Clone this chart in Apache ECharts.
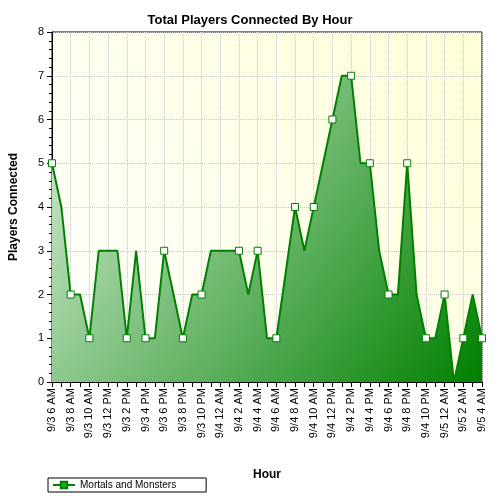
<!DOCTYPE html>
<html><head><meta charset="utf-8">
<script src="https://cdn.jsdelivr.net/npm/echarts@6/dist/echarts.min.js"></script>
<style>html,body{margin:0;padding:0;background:#fff}#c{width:500px;height:500px}</style>
</head><body><div id="c"></div>
<script>
const days = ['9/3','9/4','9/5'];
const hourLabels = ['6 AM','7 AM','8 AM','9 AM','10 AM','11 AM','12 PM','1 PM','2 PM','3 PM','4 PM','5 PM','6 PM','7 PM','8 PM','9 PM','10 PM','11 PM',
 '12 AM','1 AM','2 AM','3 AM','4 AM','5 AM','6 AM','7 AM','8 AM','9 AM','10 AM','11 AM','12 PM','1 PM','2 PM','3 PM','4 PM','5 PM','6 PM','7 PM','8 PM','9 PM','10 PM','11 PM',
 '12 AM','1 AM','2 AM','3 AM','4 AM'];
const dayOfIndex = i => i < 18 ? days[0] : (i < 42 ? days[1] : days[2]);
const categories = hourLabels.map((h,i)=>dayOfIndex(i)+' '+h);
const players = [5,4,2,2,1,3,null,3,1,3,1,1,3,2,1,2,2,3,null,null,3,2,3,1,1,null,4,3,4,null,6,7,7,5,5,3,2,2,5,2,1,1,2,0,1,2,1];
const seriesName = 'Mortals and Monsters';
const chart = echarts.init(document.getElementById('c'));
const font = 'Liberation Sans';
chart.setOption({
  backgroundColor:'#fff',
  title:{text:'Total Players Connected By Hour',left:'center',top:9,textStyle:{fontFamily:font,fontSize:13,fontWeight:'bold',color:'#000'}},
  grid:{left:52,right:18,top:32,bottom:118,show:true,borderColor:'#000',borderWidth:1,
    backgroundColor:new echarts.graphic.LinearGradient(0,1,1,0,[{offset:0,color:'#ffffff'},{offset:1,color:'#ffffd8'}])},
  legend:{left:48,bottom:8,itemWidth:22,itemHeight:8,borderColor:'#000',borderWidth:1,padding:[2,30,2,4],
    textStyle:{fontFamily:font,fontSize:10,color:'#000'},itemStyle:{color:'#22aa22'}},
  xAxis:{type:'category',data:categories,boundaryGap:false,name:'Hour',nameLocation:'middle',nameGap:87,
    nameTextStyle:{fontFamily:font,fontSize:12,fontWeight:'bold',color:'#000'},
    axisLine:{lineStyle:{color:'#000'}},
    axisTick:{interval:0,length:5,lineStyle:{color:'#000'}},
    axisLabel:{interval:1,rotate:90,fontFamily:font,fontSize:11,color:'#000',margin:6},
    splitLine:{show:true,interval:1,lineStyle:{type:'dotted',color:'#c8c8c8'}}},
  yAxis:{type:'value',min:0,max:8,interval:1,name:'Players Connected',nameLocation:'middle',nameGap:32,
    nameTextStyle:{fontFamily:font,fontSize:12,fontWeight:'bold',color:'#000'},
    axisLine:{show:true,lineStyle:{color:'#000'}},
    axisTick:{show:true,length:5,lineStyle:{color:'#000'}},
    minorTick:{show:true,splitNumber:5,length:3,lineStyle:{color:'#000'}},
    axisLabel:{fontFamily:font,fontSize:11,color:'#000',margin:8},
    splitLine:{show:true,lineStyle:{type:'dotted',color:'#c8c8c8'}}},
  series:[{name:seriesName,type:'line',data:players,connectNulls:true,symbol:'rect',symbolSize:7,
    lineStyle:{color:'#008000',width:2},
    itemStyle:{color:'#ffffff',borderColor:'#008000',borderWidth:1},
    areaStyle:{opacity:1,color:new echarts.graphic.LinearGradient(0,0,1,1,[{offset:0,color:'#d8eed8'},{offset:1,color:'#008000'}])}}]
});
</script></body></html>
